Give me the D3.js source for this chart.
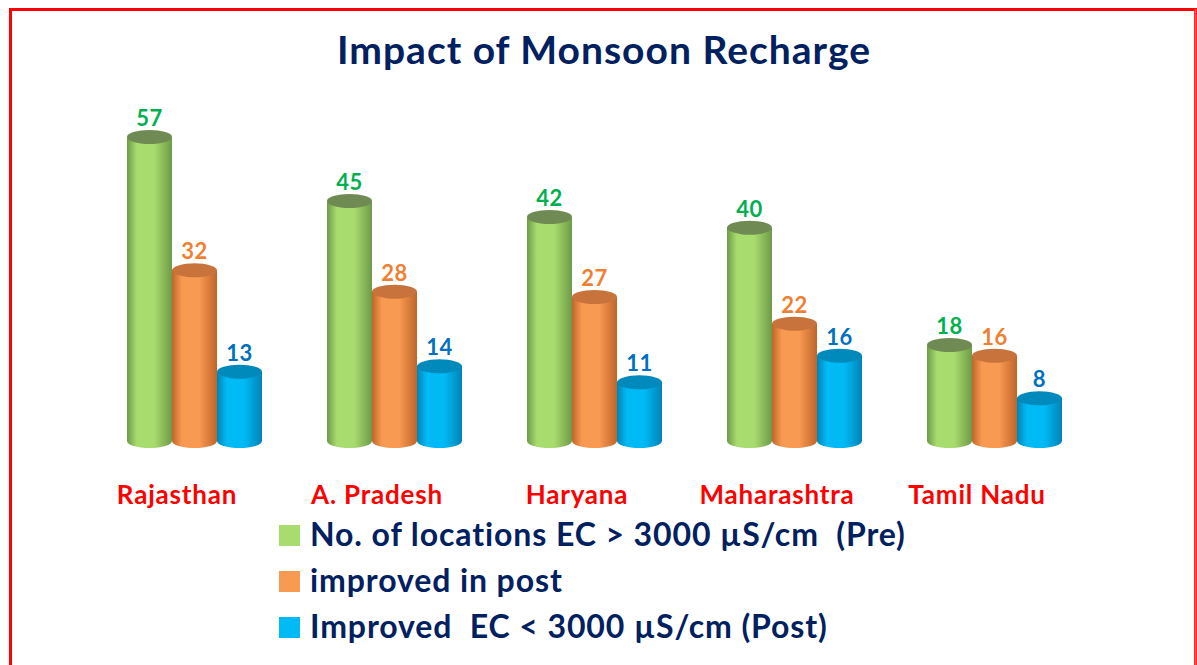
<!DOCTYPE html>
<html>
<head>
<meta charset="utf-8">
<script src="https://cdn.jsdelivr.net/npm/d3@7"></script>
<style>
  body { margin: 0; background: #fff; }
  text { font-family: Lato, "Open Sans", sans-serif; font-weight: bold; }
</style>
</head>
<body>
<div id="chart"></div>
<script>
// chart data
var states = ["Rajasthan", "A. Pradesh", "Haryana", "Maharashtra", "Tamil Nadu"];
var seriesKeys = ["pre", "improved", "post"];
var preValues = [57, 45, 42, 40, 18];
var improvedValues = [32, 28, 27, 22, 16];
var postValues = [13, 14, 11, 16, 8];
var legendLabels = [
    "No. of locations EC > 3000 \u00b5S/cm  (Pre)",
    "improved in post",
    "Improved  EC < 3000 \u00b5S/cm (Post)"
];

var svgWidth = 1197;
var svgHeight = 665;

var colors = {
    pre:      { main: "#A9DC6E", dark: "#6E9A48", top: "#6F8A52", label: "#00B050" },
    improved: { main: "#F99A52", dark: "#C0652A", top: "#C8733C", label: "#F07F32" },
    post:     { main: "#00BAF5", dark: "#0083B8", top: "#0089BB", label: "#0070C0" }
};

var svg = d3.select("#chart")
    .append("svg")
    .attr("width", svgWidth)
    .attr("height", svgHeight);

// red frame
svg.append("path")
    .attr("d", "M10.5,700 L10.5,9.5 L1195.5,9.5 L1195.5,700")
    .attr("fill", "none")
    .attr("stroke", "#FF0000")
    .attr("stroke-width", 3);
svg.append("line")
    .attr("x1", 1195.5).attr("x2", 1195.5)
    .attr("y1", 9).attr("y2", 665)
    .attr("stroke", "#FF5050")
    .attr("stroke-width", 2);

// title
svg.append("text")
    .attr("x", 604)
    .attr("y", 64)
    .attr("text-anchor", "middle")
    .attr("fill", "#002060")
    .style("font-size", "39px")
    .style("letter-spacing", "1px")
    .text("Impact of Monsoon Recharge");

// gradients for cylinder bodies
var defs = svg.append("defs");
seriesKeys.forEach(function(k) {
    var g = defs.append("linearGradient")
        .attr("id", "grad-" + k)
        .attr("x1", "0%").attr("x2", "100%")
        .attr("y1", "0%").attr("y2", "0%");
    g.append("stop").attr("offset", "0%").attr("stop-color", colors[k].dark);
    g.append("stop").attr("offset", "22%").attr("stop-color", colors[k].main);
    g.append("stop").attr("offset", "60%").attr("stop-color", colors[k].main);
    g.append("stop").attr("offset", "100%").attr("stop-color", colors[k].dark);
});

var x0 = d3.scaleBand()
    .domain(states)
    .range([127, 1062])
    .paddingInner(0.325)
    .paddingOuter(0);

var x1 = d3.scaleBand()
    .domain(seriesKeys)
    .range([0, x0.bandwidth()]);

var y = d3.scaleLinear()
    .domain([0, 57])
    .range([441, 137]);

var data = states.map(function(s, i) {
    return { state: s, pre: preValues[i], improved: improvedValues[i], post: postValues[i] };
});

var ry = 7;

var groups = svg.selectAll("g.state")
    .data(data)
    .enter()
    .append("g")
    .attr("class", "state")
    .attr("transform", d => `translate(${x0(d.state)},0)`);

var bars = groups.selectAll("g.bar")
    .data(d => seriesKeys.map(k => ({ key: k, value: d[k] })))
    .enter()
    .append("g")
    .attr("class", "bar");

// cylinder body (with rounded bottom)
bars.append("path")
    .attr("d", function(d) {
        var w = x1.bandwidth();
        var l = x1(d.key), r = l + w;
        var top = y(d.value), bot = y(0);
        return `M${l},${top} L${l},${bot} A${w / 2},${ry} 0 0 0 ${r},${bot} L${r},${top} Z`;
    })
    .attr("fill", d => `url(#grad-${d.key})`);

// cylinder top
bars.append("ellipse")
    .attr("cx", d => x1(d.key) + x1.bandwidth() / 2)
    .attr("cy", d => y(d.value))
    .attr("rx", x1.bandwidth() / 2)
    .attr("ry", ry)
    .attr("fill", d => colors[d.key].top);

// value labels
bars.append("text")
    .attr("x", d => x1(d.key) + x1.bandwidth() / 2)
    .attr("y", d => y(d.value) - 11)
    .attr("text-anchor", "middle")
    .attr("fill", d => colors[d.key].label)
    .style("font-size", "22px")
    .style("letter-spacing", "0.5px")
    .text(d => d.value);

// category labels
svg.selectAll("text.cat")
    .data(states)
    .enter()
    .append("text")
    .attr("class", "cat")
    .attr("x", d => x0(d) + 50)
    .attr("y", 504)
    .attr("text-anchor", "middle")
    .attr("fill", "#FF0000")
    .style("font-size", "26px")
    .style("letter-spacing", "0.8px")
    .text(d => d);

// legend
var legend = svg.selectAll("g.legend")
    .data(seriesKeys)
    .enter()
    .append("g")
    .attr("class", "legend")
    .attr("transform", (d, i) => `translate(279, ${525 + i * 46})`);

legend.append("rect")
    .attr("width", 21)
    .attr("height", 21)
    .attr("fill", d => colors[d].main);

legend.append("text")
    .attr("x", 31)
    .attr("y", 21)
    .attr("fill", "#002060")
    .style("font-size", "32px")
    .style("letter-spacing", "0.9px")
    .style("white-space", "pre")
    .text((d, i) => legendLabels[i]);
</script>
</body>
</html>
